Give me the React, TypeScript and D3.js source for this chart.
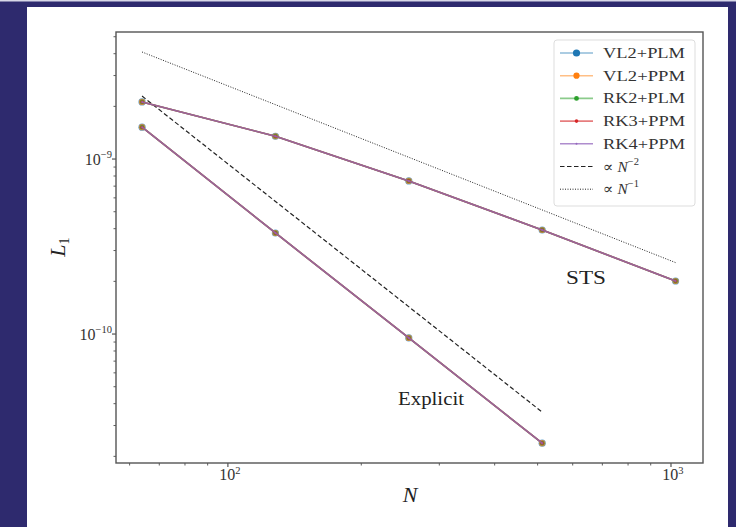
import React, { useEffect, useRef } from 'react';
import * as d3 from 'd3';

// resolutions
const resolutions = [64, 128, 256, 512, 1024];

// L1 error, STS runs (all integrators overlap)
const stsErrors = [2.12e-9, 1.35e-9, 7.5e-10, 3.93e-10, 2.01e-10];
// L1 error, explicit runs (up to N=512)
const explicitN = [64, 128, 256, 512];
const explicitErrors = [1.52e-9, 3.78e-10, 9.5e-11, 2.38e-11];

// reference slopes
const refN2 = [64, 512];
const refN2Values = [2.29e-9, 3.58e-11];
const refN1 = [64, 1024];
const refN1Values = [4.09e-9, 2.56e-10];

const seriesNames = ['VL2+PLM', 'VL2+PPM', 'RK2+PLM', 'RK3+PPM', 'RK4+PPM'];
const seriesColors = ['#1f77b4', '#ff7f0e', '#2ca02c', '#d62728', '#9467bd'];
const seriesAlpha = [0.5, 0.5, 0.55, 0.6, 0.75];
const markerSizes = [3.6, 3.1, 2.4, 1.8, 1];

const xTicks = [100, 1000];
const xTickExp = ['2', '3'];
const yTicks = [1e-9, 1e-10];
const yTickExp = ['−9', '−10'];

const App = () => {
  const svgRef = useRef<SVGSVGElement>(null);

  useEffect(() => {
    const svg = d3.select(svgRef.current);
    svg.selectAll('*').remove();
    const font = 'Liberation Serif, DejaVu Serif, serif';

    // page frame
    svg.append('rect').attr('width', 736).attr('height', 527).attr('fill', '#2e2a6e');
    svg.append('rect').attr('x', 0).attr('y', 0).attr('width', 736).attr('height', 1.5).attr('fill', '#d8d8e8');
    svg.append('rect').attr('x', 27).attr('y', 7).attr('width', 701).attr('height', 520).attr('fill', '#fff');

    const left = 116, right = 703, top = 32, bottom = 463;

    const x = d3.scaleLog().domain([55.9, 1181]).range([left, right]);
    const y = d3.scaleLog().domain([10 ** -10.737, 10 ** -8.274]).range([bottom, top]);

    const g = svg.append('g');

    // minor ticks
    const xMinor: number[] = [];
    [10, 100].forEach(b => { for (let k = 2; k <= 9; k++) xMinor.push(b * k); });
    xMinor.filter(v => v > 55.9 && v < 1181).forEach(v => {
      g.append('line').attr('x1', x(v)).attr('x2', x(v)).attr('y1', bottom).attr('y2', bottom + 2.5)
        .attr('stroke', '#333').attr('stroke-width', 0.8);
    });
    const yMinor: number[] = [];
    [1e-11, 1e-10, 1e-9].forEach(b => { for (let k = 2; k <= 9; k++) yMinor.push(b * k); });
    yMinor.filter(v => y(v) > top && y(v) < bottom).forEach(v => {
      g.append('line').attr('x1', left - 2.5).attr('x2', left).attr('y1', y(v)).attr('y2', y(v))
        .attr('stroke', '#333').attr('stroke-width', 0.8);
    });

    // major ticks + labels
    xTicks.forEach((v, i) => {
      g.append('line').attr('x1', x(v)).attr('x2', x(v)).attr('y1', bottom).attr('y2', bottom + 4)
        .attr('stroke', '#333').attr('stroke-width', 1);
      const t = g.append('text').attr('x', x(v) + 2).attr('y', bottom + 17).attr('text-anchor', 'middle')
        .attr('font-family', font).attr('font-size', 16).attr('fill', '#333');
      t.append('tspan').text('10');
      t.append('tspan').attr('dy', -6).attr('font-size', 10.5).text(xTickExp[i]);
    });
    yTicks.forEach((v, i) => {
      g.append('line').attr('x1', left - 4).attr('x2', left).attr('y1', y(v)).attr('y2', y(v))
        .attr('stroke', '#333').attr('stroke-width', 1);
      const t = g.append('text').attr('x', left - 4).attr('y', y(v) + 6).attr('text-anchor', 'end')
        .attr('font-family', font).attr('font-size', 16).attr('fill', '#333');
      t.append('tspan').text('10');
      t.append('tspan').attr('dy', -7).attr('font-size', 10.5).text(yTickExp[i]);
    });

    const line = d3.line<[number, number]>().x(d => x(d[0])).y(d => y(d[1]));

    // reference lines
    g.append('path').attr('d', line(refN2.map((n, i) => [n, refN2Values[i]]))).attr('fill', 'none')
      .attr('stroke', '#222').attr('stroke-width', 1.2).attr('stroke-dasharray', '4.5,2.5');
    g.append('path').attr('d', line(refN1.map((n, i) => [n, refN1Values[i]]))).attr('fill', 'none')
      .attr('stroke', '#222').attr('stroke-width', 1).attr('stroke-dasharray', '1,1.5');

    // data series
    const sets: [number, number][][] = [
      resolutions.map((n, i) => [n, stsErrors[i]]),
      explicitN.map((n, i) => [n, explicitErrors[i]]),
    ];
    seriesNames.forEach((_, s) => {
      sets.forEach(pts => {
        g.append('path').attr('d', line(pts)).attr('fill', 'none')
          .attr('stroke', seriesColors[s]).attr('stroke-opacity', seriesAlpha[s]).attr('stroke-width', 1.6);
        pts.forEach(p => {
          g.append('circle').attr('cx', x(p[0])).attr('cy', y(p[1])).attr('r', markerSizes[s])
            .attr('fill', seriesColors[s]).attr('fill-opacity', 0.7);
        });
      });
    });

    // annotations
    g.append('text').attr('x', 586).attr('y', 284).attr('text-anchor', 'middle')
      .attr('font-family', font).attr('font-size', 19).attr('textLength', 40)
      .attr('lengthAdjust', 'spacingAndGlyphs').attr('fill', '#222').text('STS');
    g.append('text').attr('x', 431).attr('y', 405).attr('text-anchor', 'middle')
      .attr('font-family', font).attr('font-size', 19).attr('textLength', 66)
      .attr('lengthAdjust', 'spacingAndGlyphs').attr('fill', '#222').text('Explicit');

    // spines
    g.append('rect').attr('x', left).attr('y', top).attr('width', right - left).attr('height', bottom - top)
      .attr('fill', 'none').attr('stroke', '#555').attr('stroke-width', 1.4);

    // axis labels
    g.append('text').attr('x', 410).attr('y', 502).attr('text-anchor', 'middle')
      .attr('font-family', font).attr('font-style', 'italic').attr('font-size', 22).attr('fill', '#222').text('N');
    const yl = g.append('text').attr('transform', 'translate(65,247) rotate(-90)').attr('text-anchor', 'middle')
      .attr('font-family', font).attr('font-size', 22).attr('fill', '#222');
    yl.append('tspan').attr('font-style', 'italic').text('L');
    yl.append('tspan').attr('dy', 4).attr('font-size', 14).text('1');

    // legend
    const lg = g.append('g');
    lg.append('rect').attr('x', 554).attr('y', 40).attr('width', 141).attr('height', 166).attr('rx', 3)
      .attr('fill', '#fff').attr('fill-opacity', 0.85).attr('stroke', '#ddd').attr('stroke-width', 1);
    const rowY = (i: number) => 53 + i * 22.7;
    seriesNames.forEach((name, s) => {
      lg.append('line').attr('x1', 560).attr('x2', 593).attr('y1', rowY(s)).attr('y2', rowY(s))
        .attr('stroke', seriesColors[s]).attr('stroke-opacity', seriesAlpha[s]).attr('stroke-width', 1.6);
      lg.append('circle').attr('cx', 576.5).attr('cy', rowY(s)).attr('r', markerSizes[s])
        .attr('fill', seriesColors[s]);
      lg.append('text').attr('x', 603).attr('y', rowY(s) + 5).attr('font-family', font)
        .attr('font-size', 15.5).attr('textLength', 82).attr('lengthAdjust', 'spacingAndGlyphs')
        .attr('fill', '#333').text(name);
    });
    lg.append('line').attr('x1', 560).attr('x2', 593).attr('y1', rowY(5)).attr('y2', rowY(5))
      .attr('stroke', '#222').attr('stroke-width', 1.2).attr('stroke-dasharray', '4.5,2.5');
    lg.append('line').attr('x1', 560).attr('x2', 593).attr('y1', rowY(6)).attr('y2', rowY(6))
      .attr('stroke', '#222').attr('stroke-width', 1).attr('stroke-dasharray', '1,1.5');
    ['2', '1'].forEach((e, i) => {
      const t = lg.append('text').attr('x', 603).attr('y', rowY(5 + i) + 5).attr('font-family', font)
        .attr('font-size', 15.5).attr('fill', '#333');
      t.append('tspan').text('∝ ');
      t.append('tspan').attr('font-style', 'italic').text('N');
      t.append('tspan').attr('dy', -7).attr('font-size', 10.5).text('−' + e);
    });
  }, []);

  return <svg ref={svgRef} width={736} height={527} style={{ position: 'absolute', left: 0, top: 0 }}></svg>;
};

export default App;
